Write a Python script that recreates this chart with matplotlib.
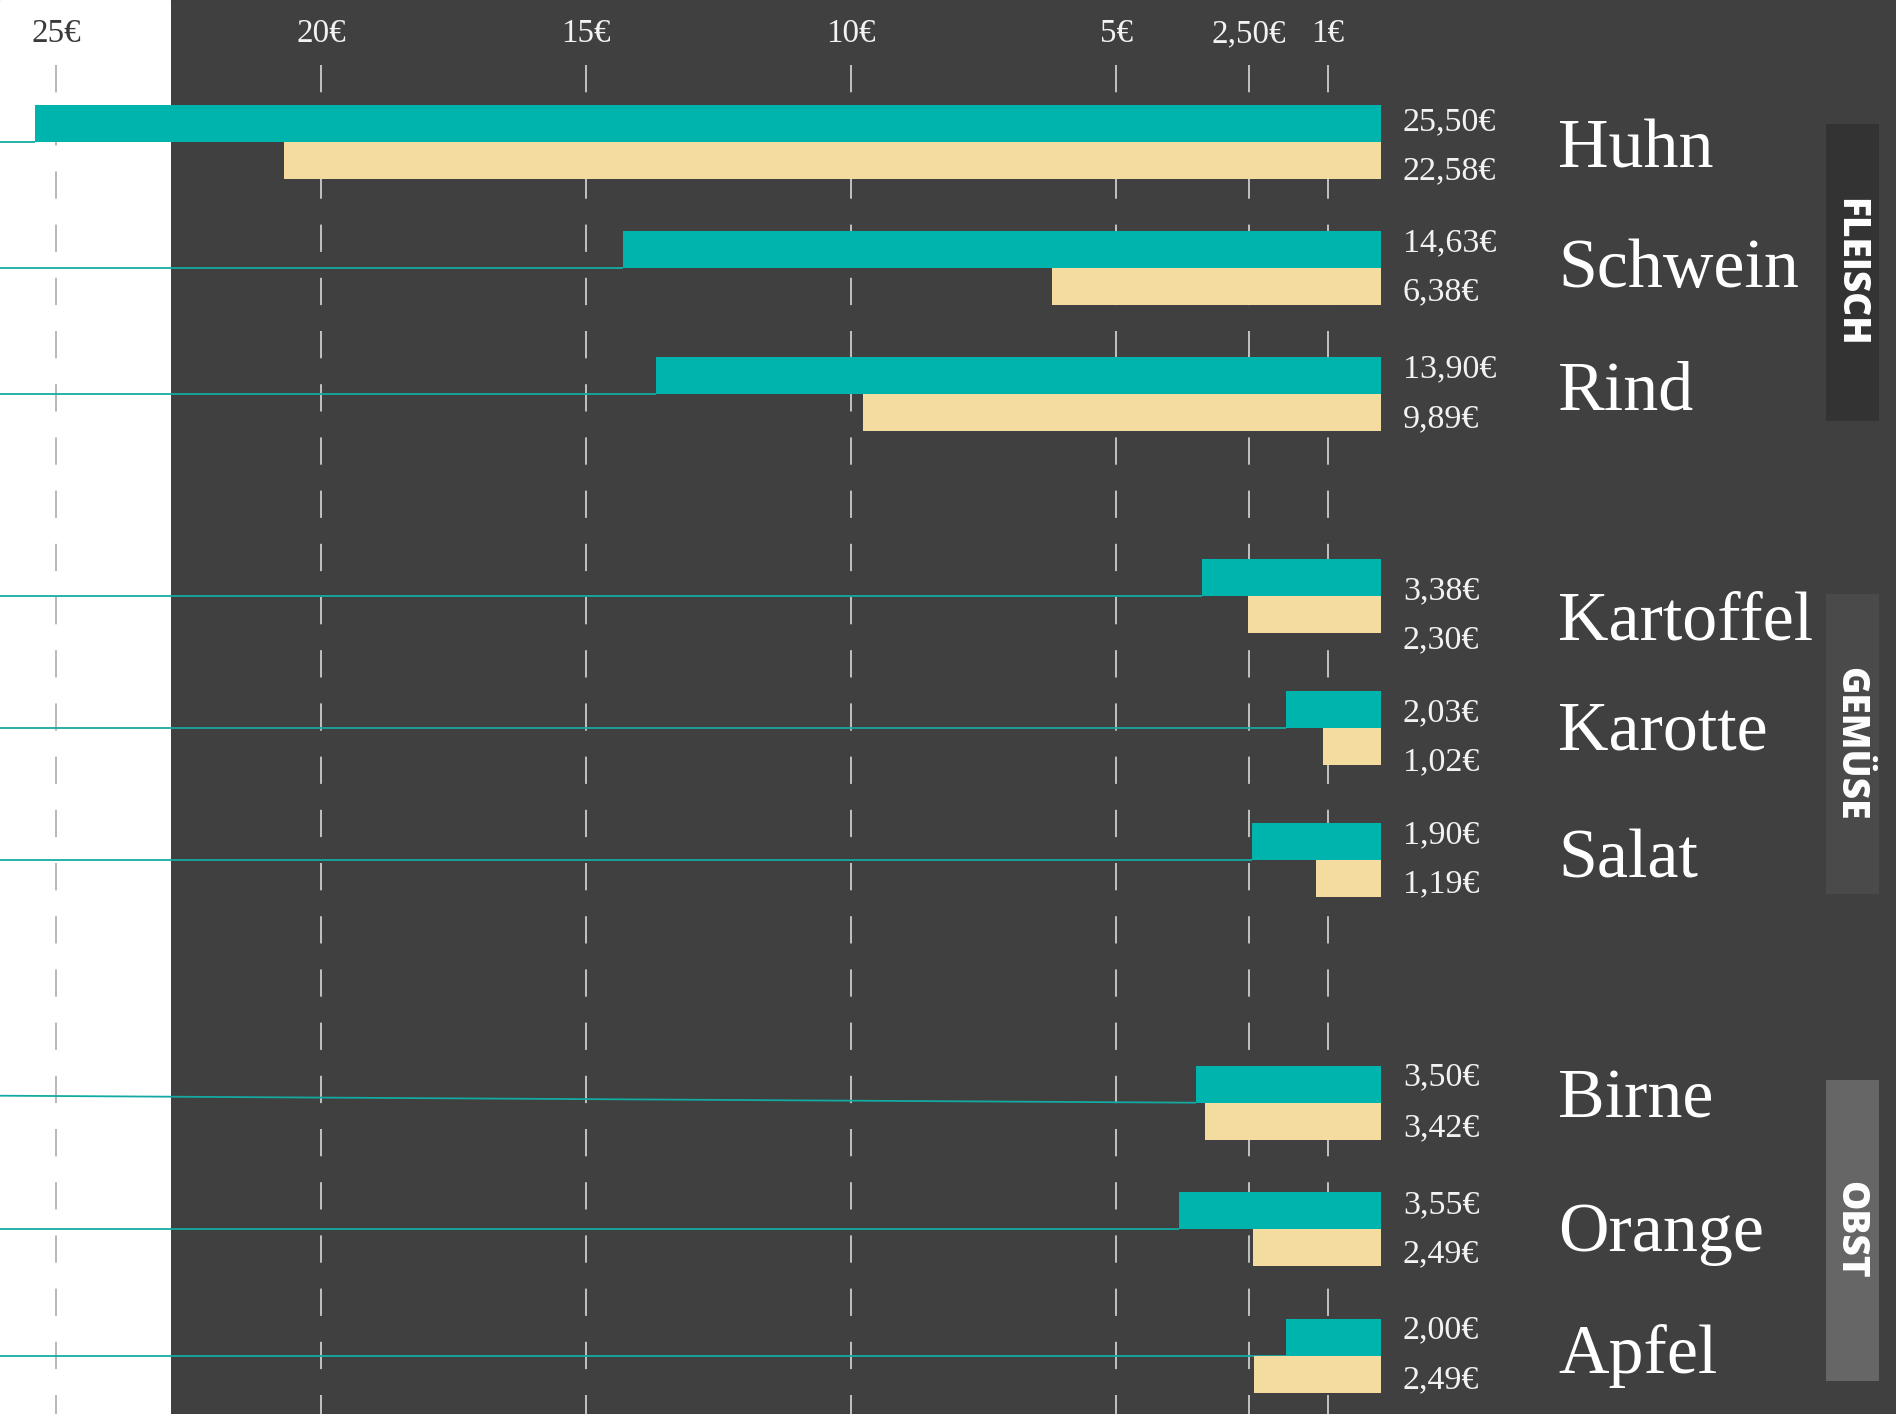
import matplotlib
matplotlib.use("Agg")
import matplotlib.pyplot as plt
from matplotlib.patches import Rectangle

# daten (balkenlaengen, beschriftung wie im bild)
namen = ["Huhn", "Schwein", "Rind", "Kartoffel", "Karotte", "Salat", "Birne", "Orange", "Apfel"]
teal_wert = [25.40, 14.31, 13.67, 3.38, 1.80, 2.44, 3.49, 3.81, 1.80]
creme_wert = [20.70, 6.21, 9.77, 2.51, 1.10, 1.23, 3.33, 2.42, 2.40]
teal_label = ["25,50€", "14,63€", "13,90€", "3,38€", "2,03€", "1,90€", "3,50€", "3,55€", "2,00€"]
creme_label = ["22,58€", "6,38€", "9,89€", "2,30€", "1,02€", "1,19€", "3,42€", "2,49€", "2,49€"]
gruppen = ["FLEISCH", "GEMÜSE", "OBST"]
tick_werte = [25, 20, 15, 10, 5, 2.5, 1]
tick_label = ["25€", "20€", "15€", "10€", "5€", "2,50€", "1€"]

# layout in pixeln (von oben)
W, H = 1896, 1414
null_px = 1381
px_pro_euro = 53
grenze = [141.7, 267.7, 394, 595.7, 727.7, 860, 1102.7, 1229, 1355.7]
teal_y = [130, 251.7, 377, 599, 721, 843, 1085, 1213, 1338]
creme_y = [179, 300, 427, 648, 770, 892, 1136, 1262, 1388]
namen_y = [167, 287, 409, 640, 750, 877, 1117, 1251, 1373]
schraeg = [0, 0, 0, 0, 0, 0, 7, 0, 0]
boxen = [(124, 420, "#333333"), (594, 893, "#4a4a4a"), (1080, 1380, "#666666")]

TEAL = "#00b4ae"
CREME = "#f4dca0"
BG = "#404040"
balken_h = 37

plt.rcParams['lines.scale_dashes'] = False
serif = "Liberation Serif"

fig = plt.figure(figsize=(W / 72, H / 72), dpi=72, facecolor=BG)
ax = fig.add_axes([0, 0, 1, 1])
ax.set_xlim(null_px / px_pro_euro, (null_px - W) / px_pro_euro)
ax.set_ylim(H, 0)
ax.set_axis_off()

trans = ax.get_yaxis_transform()  # x in achsen-anteil, y in daten

# weisser streifen links
weiss_px = 170
ax.add_patch(Rectangle((0, 0), weiss_px / W, H, transform=trans, color="white", zorder=0))

# gestrichelte linien + achsenbeschriftung
grenz_wert = (null_px - weiss_px) / px_pro_euro
for v, t in zip(tick_werte, tick_label):
    im_weiss = v > grenz_wert
    ax.plot([v, v], [65, H], ls=(0, (27.3, 25.9)), lw=1.6,
            color="#a8a8a8" if im_weiss else "#dedede", zorder=1)
    ax.text(v, 42, t, ha="center", va="baseline", fontsize=33, family=serif,
            color="#3a3a3a" if im_weiss else "#f2f2f2")

# balken
for i in range(len(namen)):
    g = grenze[i]
    ax.barh(g - balken_h / 2, teal_wert[i], height=balken_h, color=TEAL, zorder=3)
    ax.barh(g + balken_h / 2, creme_wert[i], height=balken_h, color=CREME, zorder=3)
    ax.plot([ax.get_xlim()[0], teal_wert[i]], [g - schraeg[i], g], color="#14aaa4",
            lw=1.8, solid_capstyle="butt", zorder=2)
    ax.text(1403 / W, teal_y[i], teal_label[i], transform=trans, ha="left", va="baseline",
            fontsize=34, family=serif, color="#f2f2f2")
    ax.text(1403 / W, creme_y[i], creme_label[i], transform=trans, ha="left", va="baseline",
            fontsize=34, family=serif, color="#f2f2f2")
    ax.text(1558 / W, namen_y[i], namen[i], transform=trans, ha="left", va="baseline",
            fontsize=70, family=serif, color="white")

# gruppen-kaesten
for (oben, unten, farbe), name in zip(boxen, gruppen):
    ax.add_patch(Rectangle((1826 / W, oben), 52 / W, unten - oben, transform=trans,
                           color=farbe, zorder=2))
    ax.text(1850 / W, (oben + unten) / 2, name, transform=trans, rotation=270,
            ha="center", va="center", fontsize=37, family="Open Sans",
            fontweight="heavy", color="white")

fig.savefig("out.png", dpi=72, facecolor=BG)
